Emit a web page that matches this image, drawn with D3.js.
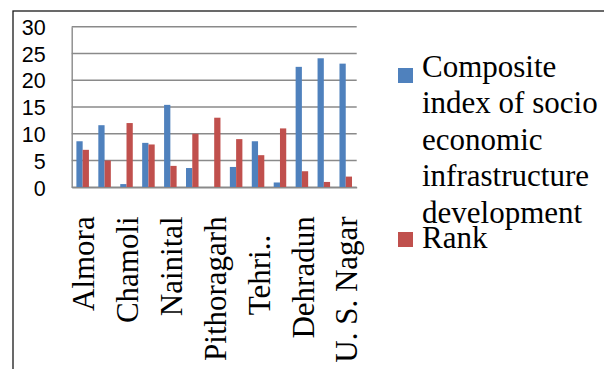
<!DOCTYPE html>
<html>
<head>
<meta charset="utf-8">
<script src="https://cdn.jsdelivr.net/npm/d3@7"></script>
<style>
  html, body { margin: 0; padding: 0; background: #fff; }
  svg { display: block; }
</style>
</head>
<body>
<svg id="chart" width="604" height="369" font-family="Liberation Serif"></svg>
<script>
// Districts of Uttarakhand, in chart order
const categories = [
  "Almora", "Bageshwar", "Chamoli", "Champawat", "Nainital", "Pauri Garhwal",
  "Pithoragarh", "Rudraprayag", "Tehri Garhwal", "Uttarkashi", "Dehradun",
  "Haridwar", "U. S. Nagar"
];
// Composite index of socio economic infrastructure development
const compositeIndex = [8.6, 11.6, 0.6, 8.3, 15.4, 3.6, 0, 3.8, 8.6, 0.9, 22.5, 24.1, 23.1];
// Rank of each district
const rankValues = [7, 5, 12, 8, 4, 10, 13, 9, 6, 11, 3, 1, 2];

const seriesNames = ["Composite index of socio economic infrastructure development", "Rank"];
const legendLines = [
  ["Composite", "index of socio", "economic", "infrastructure", "development"],
  ["Rank"]
];
const yTicks = [0, 5, 10, 15, 20, 25, 30];
// Only every other category is labelled on the axis
const xTickCategories = ["Almora", "Chamoli", "Nainital", "Pithoragarh", "Tehri Garhwal", "Dehradun", "U. S. Nagar"];
const xTickLabels = ["Almora", "Chamoli", "Nainital", "Pithoragarh", "Tehri..", "Dehradun", "U. S. Nagar"];

const colors = ["#4F81BD", "#C0504D"];
const serifFont = "Liberation Serif";
const sansFont = "Liberation Sans";
const svg = d3.select("#chart");

// Outer chart frame
svg.append("rect")
  .attr("x", 13).attr("y", 11)
  .attr("width", 620).attr("height", 400)
  .attr("fill", "none").attr("stroke", "#1a1a1a").attr("stroke-width", 1.3);

const plot = { left: 71.7, right: 356.7, top: 26.7, bottom: 187.3 };

const x = d3.scaleBand().domain(categories).range([plot.left, plot.right]).padding(0);
const y = d3.scaleLinear().domain([0, 30]).range([plot.bottom, plot.top]);
const barW = x.bandwidth() / 3.5;

// Horizontal gridlines
svg.append("g")
  .selectAll("line")
  .data(yTicks)
  .join("line")
  .attr("x1", plot.left).attr("x2", plot.right)
  .attr("y1", d => y(d)).attr("y2", d => y(d))
  .attr("stroke", "#8a8a8a").attr("stroke-width", 1.4);

// Y axis
const yAxis = svg.append("g")
  .attr("transform", `translate(${plot.left},0)`)
  .call(d3.axisLeft(y).tickValues(yTicks).tickSize(0).tickPadding(26))
  .attr("font-family", sansFont)
  .attr("font-size", 21.5);
yAxis.select(".domain").attr("stroke", "#8a8a8a").attr("stroke-width", 1.4);
yAxis.selectAll("text")
  .attr("fill", "#000")
  .attr("dy", "0.36em");

// Bars
const seriesData = [compositeIndex, rankValues];
seriesData.forEach((vals, si) => {
  svg.append("g")
    .selectAll("rect")
    .data(vals.map((v, i) => ({ cat: categories[i], v })))
    .join("rect")
    .attr("x", d => x(d.cat) + x.bandwidth() / 2 - barW + si * barW)
    .attr("width", barW)
    .attr("y", d => y(d.v))
    .attr("height", d => y(0) - y(d.v))
    .attr("fill", colors[si]);
});

// X axis with rotated labels
const xAxis = svg.append("g")
  .attr("transform", `translate(0,${plot.bottom})`)
  .call(d3.axisBottom(x)
    .tickValues(xTickCategories)
    .tickSize(0)
    .tickFormat(d => xTickLabels[xTickCategories.indexOf(d)]))
  .attr("font-family", serifFont)
  .attr("font-size", 31);
xAxis.select(".domain").attr("stroke", "#8a8a8a").attr("stroke-width", 1.4);
const xText = xAxis.selectAll("text")
  .attr("fill", "#000")
  .attr("text-anchor", "end")
  .attr("transform", "rotate(-90)")
  .attr("y", 0)
  .attr("dy", "11.7px")
  .attr("x", -29);
// Truncated labels: trailing dots run past the common end line
xText.each(function() {
  const t = d3.select(this);
  const m = t.text().match(/\.+$/);
  if (m) {
    const probe = xAxis.append("text").text(m[0]);
    const w = probe.node().getComputedTextLength();
    probe.remove();
    t.attr("x", -29 - w - 3);
  }
});

// Legend
const legend = svg.append("g")
  .attr("font-family", serifFont)
  .attr("font-size", 31);
const legendBase = [76.5, 248];
const swatchTop = [68, 232];
legendLines.forEach((lines, si) => {
  legend.append("rect")
    .attr("x", 398).attr("y", swatchTop[si])
    .attr("width", 15).attr("height", 15)
    .attr("fill", colors[si]);
  const t = legend.append("text").attr("fill", "#000");
  lines.forEach((ln, li) => {
    t.append("tspan")
      .attr("x", 422)
      .attr("y", legendBase[si] + li * 36.5)
      .text(ln);
  });
});
</script>
</body>
</html>
